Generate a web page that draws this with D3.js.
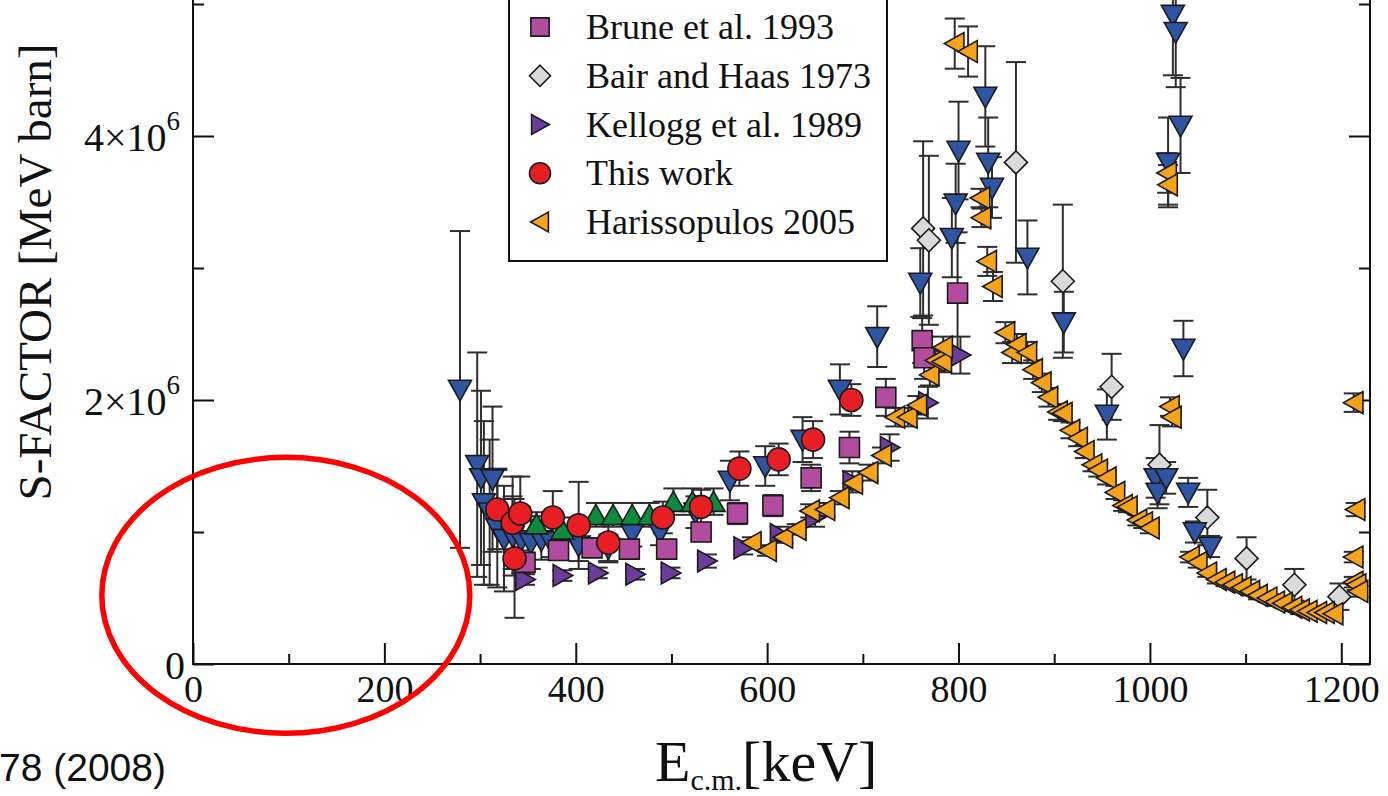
<!DOCTYPE html>
<html>
<head>
<meta charset="utf-8">
<script src="https://cdn.jsdelivr.net/npm/d3@7"></script>
<style>
  html, body { margin: 0; padding: 0; background: #fff; overflow: hidden; }
  svg { display: block; }
  text { font-family: "Liberation Serif", "Times New Roman", serif; fill: #111; }
</style>
</head>
<body>
<svg id="chart" width="1388" height="796"></svg>
<script>
// ---- data -------------------------------------------------------------
// Each point: [E_cm (keV), S (10^6 MeV b), dS (10^6 MeV b)]
const UNIT = 1e6;

const xTickValues = [0, 200, 400, 600, 800, 1000, 1200];
const xMinorValues = [100, 300, 500, 700, 900, 1100];
const yTickValues = [0, 2, 4];          // in 10^6
const yMinorValues = [1, 3, 5];
const yTickLabels = [["0", ""], ["2×10", "6"], ["4×10", "6"]];

const legendNames = ["Brune et al. 1993", "Bair and Haas 1973", "Kellogg et al. 1989", "This work", "Harissopulos 2005"];

// down-triangle data set
const seriesDown = [
  [279, 2.08, 1.20], [297, 1.51, 0.85], [301, 1.41, 0.66], [313, 1.40, 0.55],
  [304, 1.22, 0.62], [310, 1.15, 0.55], [318, 1.03, 0.45], [325, 0.95, 0.40],
  [334, 0.97, 0.30], [343, 0.94, 0.25], [353, 0.92, 0.20], [364, 0.94, 0.15],
  [374, 0.93, 0.12], [403, 0.90, 0.12], [434, 0.88, 0.10], [459, 0.99, 0.10],
  [488, 1.00, 0.10], [525, 1.15, 0.12], [561, 1.39, 0.15], [598, 1.50, 0.15],
  [637, 1.70, 0.17], [676, 2.08, 0.19], [715, 2.48, 0.23], [760, 2.89, 0.26],
  [793, 3.23, 0.30], [797, 3.49, 0.30], [800, 3.89, 0.37], [828, 4.30, 0.38],
  [831, 3.80, 0.34], [835, 3.61, 0.23], [872, 3.08, 0.28], [910, 2.59, 0.23],
  [955, 1.89, 0.19], [1006, 1.41, 0.15], [1008, 1.30, 0.12], [1017, 1.41, 0.12],
  [1019, 3.80, 0.34], [1024, 4.92, 0.46], [1027, 4.79, 0.42], [1032, 4.08, 0.36],
  [1035, 2.39, 0.21], [1040, 1.30, 0.11], [1047, 1.00, 0.08], [1063, 0.89, 0.08]
];

// up-triangle data set
const seriesUp = [
  [359, 1.06, 0.09], [386, 1.02, 0.09], [421, 1.13, 0.09], [439, 1.13, 0.09],
  [459, 1.13, 0.09], [477, 1.13, 0.09], [502, 1.23, 0.10], [522, 1.23, 0.10],
  [544, 1.23, 0.10]
];

const brune1993 = [
  [347, 0.77, 0.06], [382, 0.86, 0.06], [417, 0.88, 0.06], [456, 0.87, 0.06],
  [495, 0.87, 0.06], [531, 1.00, 0.07], [569, 1.14, 0.08], [606, 1.20, 0.08],
  [646, 1.41, 0.10], [686, 1.64, 0.12], [724, 2.02, 0.14], [762, 2.45, 0.17],
  [764, 2.32, 0.16], [799, 2.81, 0.46]
];

const bairHaas1973 = [
  [763, 3.30, 0.66], [769, 3.21, 0.64], [860, 3.80, 0.76], [909, 2.90, 0.58],
  [960, 2.10, 0.25], [1010, 1.51, 0.30], [1060, 1.11, 0.21], [1101, 0.80, 0.16],
  [1151, 0.60, 0.12], [1198, 0.51, 0.10]
];

const kellogg1989 = [
  [347, 0.64, 0.04], [386, 0.67, 0.04], [423, 0.69, 0.04], [462, 0.68, 0.04],
  [499, 0.69, 0.04], [537, 0.78, 0.05], [575, 0.88, 0.05], [613, 0.98, 0.06],
  [650, 1.11, 0.07], [689, 1.38, 0.08], [728, 1.64, 0.10], [768, 1.98, 0.12],
  [802, 2.34, 0.14]
];

const thisWork = [
  [318, 1.17, 0.30], [334, 1.07, 0.35], [342, 1.14, 0.28], [336, 0.80, 0.45],
  [376, 1.11, 0.20], [403, 1.05, 0.33], [434, 0.92, 0.15], [491, 1.11, 0.12],
  [531, 1.19, 0.13], [571, 1.48, 0.13], [612, 1.55, 0.12], [648, 1.70, 0.14],
  [688, 2.00, 0.12]
];

const harissopulos2005 = [
  [584, 0.92, 0.04], [600, 0.86, 0.04], [617, 0.96, 0.04], [631, 1.02, 0.04],
  [645, 1.16, 0.05], [661, 1.17, 0.05], [676, 1.26, 0.05], [690, 1.37, 0.05],
  [706, 1.45, 0.06], [720, 1.58, 0.06], [734, 1.87, 0.07], [747, 1.87, 0.07],
  [757, 1.96, 0.07], [770, 2.19, 0.08], [776, 2.30, 0.08], [783, 2.29, 0.08],
  [784, 2.40, 0.08], [796, 4.70, 0.19], [810, 4.64, 0.19], [823, 3.53, 0.07],
  [824, 3.38, 0.07], [830, 3.05, 0.11], [836, 2.86, 0.11],
  [849, 2.51, 0.08], [856, 2.36, 0.08], [861, 2.42, 0.08], [872, 2.36, 0.08],
  [878, 2.23, 0.07], [887, 2.13, 0.07], [894, 2.02, 0.07], [904, 1.91, 0.06],
  [909, 1.90, 0.06], [917, 1.77, 0.06], [925, 1.71, 0.06], [932, 1.61, 0.05],
  [940, 1.51, 0.05], [946, 1.47, 0.05], [955, 1.41, 0.05], [964, 1.30, 0.05],
  [972, 1.20, 0.04], [977, 1.19, 0.04], [987, 1.09, 0.04], [993, 1.07, 0.04],
  [1000, 1.03, 0.04],
  [1018, 3.72, 0.15], [1019, 3.63, 0.15], [1021, 1.95, 0.07], [1023, 1.87, 0.07],
  [1042, 0.81, 0.04], [1050, 0.77, 0.04], [1060, 0.69, 0.03], [1070, 0.64, 0.03],
  [1079, 0.62, 0.03], [1087, 0.60, 0.03], [1096, 0.58, 0.03], [1105, 0.55, 0.03],
  [1113, 0.52, 0.03], [1123, 0.50, 0.03], [1131, 0.47, 0.03], [1139, 0.46, 0.03],
  [1149, 0.43, 0.03], [1157, 0.41, 0.03], [1165, 0.40, 0.03], [1175, 0.39, 0.03],
  [1183, 0.39, 0.03], [1192, 0.38, 0.03],
  [1213, 1.98, 0.07], [1215, 1.17, 0.05], [1213, 0.81, 0.04], [1213, 0.62, 0.04],
  [1216, 0.60, 0.04], [1218, 0.55, 0.04]
];

// ---- layout -------------------------------------------------------------
const SERIF = '"Liberation Serif", "Times New Roman", serif';
const svg = d3.select("#chart");
const plot = { left: 193, right: 1370, bottom: 664, top: -29 };

const x = d3.scaleLinear().domain([0, 1230]).range([plot.left, plot.right]);
const y = d3.scaleLinear().domain([0, 5.25 * UNIT]).range([plot.bottom, plot.top]);

// ---- marker shapes ------------------------------------------------------
function polySymbol(points) {
  return {
    draw(ctx, size) {
      const h = Math.sqrt(size) / 2;
      points.forEach((p, i) => i ? ctx.lineTo(p[0] * h, p[1] * h) : ctx.moveTo(p[0] * h, p[1] * h));
      ctx.closePath();
    }
  };
}
const symDown = polySymbol([[-1, -0.8], [1, -0.8], [0, 1.0]]);
const symUp = polySymbol([[-1, 0.85], [1, 0.85], [0, -0.9]]);
const symRight = polySymbol([[-0.8, -0.95], [-0.8, 0.95], [0.9, 0]]);
const symLeft = polySymbol([[0.8, -0.95], [0.8, 0.95], [-0.9, 0]]);
const symDiamond = polySymbol([[0, -1], [1, 0], [0, 1], [-1, 0]]);
const symSquare = polySymbol([[-0.87, -0.87], [0.87, -0.87], [0.87, 0.87], [-0.87, 0.87]]);
const symCircle = { draw(ctx, size) { const r = Math.sqrt(size) / 2; ctx.moveTo(r, 0); ctx.arc(0, 0, r, 0, 2 * Math.PI); } };

const S = 23 * 23;   // marker bounding size
const series = [
  { data: bairHaas1973, sym: symDiamond, fill: "#dadada" },
  { data: seriesDown, sym: symDown, fill: "#2f54a3" },
  { data: seriesUp, sym: symUp, fill: "#0e8a3e" },
  { data: kellogg1989, sym: symRight, fill: "#6a3d9c" },
  { data: brune1993, sym: symSquare, fill: "#b24c9f" },
  { data: harissopulos2005, sym: symLeft, fill: "#f6a31c" },
  { data: thisWork, sym: symCircle, fill: "#e81e25" }
];

// ---- frame, ticks -------------------------------------------------------
svg.append("defs").append("clipPath").attr("id", "plotclip")
  .append("rect").attr("x", plot.left).attr("y", plot.top)
  .attr("width", plot.right - plot.left).attr("height", plot.bottom - plot.top);

function styleAxis(g) {
  g.attr("font-family", SERIF);
  g.selectAll("line").attr("stroke", "#111").attr("stroke-width", 2);
  g.select(".domain").remove();
}

// bottom: major ticks with labels, minor ticks without
const xAxis = svg.append("g").attr("transform", `translate(0,${plot.bottom})`)
  .call(d3.axisBottom(x).tickValues(xTickValues).tickFormat(d3.format("d"))
    .tickSize(-21).tickSizeOuter(0).tickPadding(11));
xAxis.call(styleAxis);
xAxis.selectAll("text").attr("font-size", 38).attr("fill", "#111")
  .attr("font-family", SERIF).style("font-family", SERIF);
svg.append("g").attr("transform", `translate(0,${plot.bottom})`)
  .call(d3.axisBottom(x).tickValues(xMinorValues).tickSize(-10).tickFormat(() => ""))
  .call(styleAxis);

// left: major with ×10^n labels, minor
const yAxis = svg.append("g").attr("transform", `translate(${plot.left},0)`)
  .call(d3.axisLeft(y).tickValues(yTickValues.map(v => v * UNIT)).tickSize(-21).tickSizeOuter(0));
yAxis.call(styleAxis);
yAxis.selectAll(".tick text").each(function (d, i) {
  const t = d3.select(this).text("").attr("x", i === 0 ? -8 : -13).attr("dy", null)
    .attr("y", 14).attr("text-anchor", "end").attr("font-size", 40).attr("fill", "#111")
    .attr("font-family", SERIF).style("font-family", SERIF);
  const lab = yTickLabels[i];
  t.append("tspan").text(lab[0]);
  if (lab[1]) t.append("tspan").attr("font-size", 27).attr("dy", -21).text(lab[1]);
});
svg.append("g").attr("transform", `translate(${plot.left},0)`)
  .call(d3.axisLeft(y).tickValues(yMinorValues.map(v => v * UNIT)).tickSize(-11).tickFormat(() => ""))
  .call(styleAxis);

// right: mirrored ticks
svg.append("g").attr("transform", `translate(${plot.right},0)`)
  .call(d3.axisRight(y).tickValues(yTickValues.map(v => v * UNIT)).tickSize(-21).tickFormat(() => ""))
  .call(styleAxis);
svg.append("g").attr("transform", `translate(${plot.right},0)`)
  .call(d3.axisRight(y).tickValues(yMinorValues.map(v => v * UNIT)).tickSize(-11).tickFormat(() => ""))
  .call(styleAxis);

// ---- error bars ---------------------------------------------------------
const errG = svg.append("g").attr("clip-path", "url(#plotclip)")
  .attr("stroke", "#2e2e2e").attr("stroke-width", 2).attr("fill", "none");
series.forEach(s => {
  s.data.forEach(d => {
    const cx = x(d[0]), y0 = y((d[1] - d[2]) * UNIT), y1 = y((d[1] + d[2]) * UNIT);
    errG.append("line").attr("x1", cx).attr("x2", cx).attr("y1", y0).attr("y2", y1);
    errG.append("line").attr("x1", cx - 10).attr("x2", cx + 10).attr("y1", y0).attr("y2", y0);
    errG.append("line").attr("x1", cx - 10).attr("x2", cx + 10).attr("y1", y1).attr("y2", y1);
  });
});

// ---- markers --------------------------------------------------------------
const markG = svg.append("g").attr("clip-path", "url(#plotclip)");
series.forEach(s => {
  markG.append("g").selectAll("path").data(s.data).join("path")
    .attr("transform", d => `translate(${x(d[0])},${y(d[1] * UNIT)})`)
    .attr("d", d3.symbol().type(s.sym).size(S))
    .attr("fill", s.fill).attr("stroke", "#1b1b1b").attr("stroke-width", 1.6);
});

// frame lines
svg.append("rect").attr("x", plot.left).attr("y", plot.top)
  .attr("width", plot.right - plot.left).attr("height", plot.bottom - plot.top)
  .attr("fill", "none").attr("stroke", "#111").attr("stroke-width", 2);

// ---- legend -------------------------------------------------------------
const legendStyles = [series[4], series[0], series[3], series[6], series[5]];
const lg = svg.append("g");
lg.append("rect").attr("x", 509).attr("y", -60).attr("width", 378).attr("height", 321)
  .attr("fill", "#fff").attr("stroke", "#111").attr("stroke-width", 2);
const legendY = d3.scalePoint().domain(legendNames).range([27, 222]);
legendNames.forEach((name, i) => {
  const st = legendStyles[i];
  lg.append("path").attr("transform", `translate(540,${legendY(name)})`)
    .attr("d", d3.symbol().type(st.sym).size(21 * 21))
    .attr("fill", st.fill).attr("stroke", "#1b1b1b").attr("stroke-width", 1.6);
  lg.append("text").attr("x", 586).attr("y", legendY(name) + 12)
    .attr("font-size", 36).text(name);
});

// ---- axis titles ----------------------------------------------------------
svg.append("text").attr("transform", "translate(51,272) rotate(-90)")
  .attr("text-anchor", "middle").attr("font-size", 47).text("S-FACTOR [MeV barn]");

const xt = svg.append("text").attr("x", 655).attr("y", 781).attr("font-size", 58);
xt.append("tspan").text("E");
xt.append("tspan").attr("font-size", 30).attr("dy", 9).text("c.m.");
xt.append("tspan").attr("dy", -9).text("[keV]");

// citation fragment at lower left
svg.append("text").attr("x", -1).attr("y", 781).attr("font-size", 39)
  .attr("font-family", '"Liberation Sans", Arial, sans-serif')
  .style("font-family", '"Liberation Sans", Arial, sans-serif').text("78 (2008)");

// highlight ellipse over the low-energy region
svg.append("ellipse").attr("cx", x(97)).attr("cy", y(0.52 * UNIT))
  .attr("rx", 184).attr("ry", 138)
  .attr("fill", "none").attr("stroke", "#ff0000").attr("stroke-width", 5.5);
</script>
</body>
</html>
